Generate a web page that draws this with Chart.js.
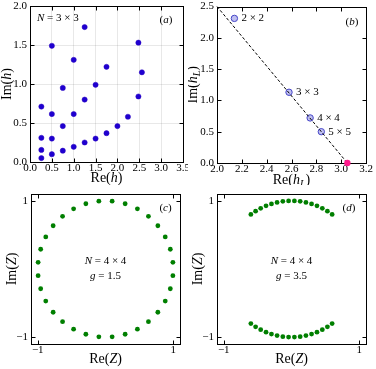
<!DOCTYPE html>
<html><head><meta charset="utf-8">
<script src="https://cdn.jsdelivr.net/npm/chart.js@4.4.0/dist/chart.umd.min.js"></script>
<style>
html,body{margin:0;padding:0;background:#fff;}
#wrap{position:relative;width:376px;height:369px;overflow:hidden;}
canvas{position:absolute;}
</style></head><body>
<div id="wrap">
<canvas id="ca" width="188" height="185" style="left:0;top:0"></canvas>
<canvas id="cb" width="188" height="185" style="left:188px;top:0"></canvas>
<canvas id="cc" width="188" height="184" style="left:0;top:185px"></canvas>
<canvas id="cd" width="188" height="184" style="left:188px;top:185px"></canvas>
</div>
<script>
// ---- Panel (a): zeros h for N = 3x3 ----
const aRe = [0.26,0.26,0.26,0.26, 0.5,0.5,0.5,0.5, 0.75,0.75,0.75, 1.0,1.0,1.0, 1.25,1.25,1.25, 1.5,1.5, 1.75,1.75, 2.0, 2.24, 2.48,2.48, 2.56];
const aIm = [0.05,0.155,0.31,0.71, 0.10,0.30,0.615,1.49, 0.145,0.46,0.95, 0.195,0.615,1.31, 0.25,0.80,1.73, 0.30,0.99, 0.37,1.22, 0.46, 0.58, 0.84,1.53, 1.15];
const aXTicks = [0,0.5,1.0,1.5,2.0,2.5,3.0,3.5];
const aYTicks = [0,0.5,1.0,1.5,2.0];

// ---- Panel (b): leading zeros h_L vs size ----
const bRe = [2.14, 2.58, 2.75, 2.84];
const bIm = [2.31, 1.13, 0.72, 0.50];
const bLabels = ['2 × 2', '3 × 3', '4 × 4', '5 × 5'];
const bLimRe = [3.05];
const bLimIm = [0.0];
const bFitRe = [2.0, 3.05];
const bFitIm = [2.5, 0.0];
const bXTicks = [2.0,2.2,2.4,2.6,2.8,3.0,3.2];
const bYTicks = [0,0.5,1.0,1.5,2.0,2.5];

// ---- Panel (c): Z zeros, N = 4x4, g = 1.5 ----
const cRe = [0.995,0.957,0.882,0.773,0.634,0.471,0.290,0.098,-0.098,-0.290,-0.471,-0.634,-0.773,-0.882,-0.957,-0.995,
             -0.995,-0.957,-0.882,-0.773,-0.634,-0.471,-0.290,-0.098,0.098,0.290,0.471,0.634,0.773,0.882,0.957,0.995];
const cIm = [0.098,0.290,0.471,0.634,0.773,0.882,0.957,0.995,0.995,0.957,0.882,0.773,0.634,0.471,0.290,0.098,
             -0.098,-0.290,-0.471,-0.634,-0.773,-0.882,-0.957,-0.995,-0.995,-0.957,-0.882,-0.773,-0.634,-0.471,-0.290,-0.098];

// ---- Panel (d): Z zeros, N = 4x4, g = 3.5 ----
const dRe = [-0.600,-0.530,-0.455,-0.376,-0.296,-0.213,-0.128,-0.043,0.043,0.128,0.213,0.296,0.376,0.455,0.530,0.600,
             -0.600,-0.530,-0.455,-0.376,-0.296,-0.213,-0.128,-0.043,0.043,0.128,0.213,0.296,0.376,0.455,0.530,0.600];
const dIm = [0.800,0.848,0.890,0.927,0.955,0.977,0.992,0.999,0.999,0.992,0.977,0.955,0.927,0.890,0.848,0.800,
             -0.800,-0.848,-0.890,-0.927,-0.955,-0.977,-0.992,-0.999,-0.999,-0.992,-0.977,-0.955,-0.927,-0.890,-0.848,-0.800];
const zTicks = [-1, 1];

const FONT = '"Liberation Serif", "DejaVu Serif", serif';

function pts(xs, ys){ return xs.map((x,i)=>({x:x, y:ys[i]})); }

function drawRich(ctx, segs, x, y, size, align, rot){
  ctx.save();
  ctx.translate(x, y);
  if (rot) ctx.rotate(-Math.PI/2);
  const fontOf = st => (st==='r' ? '' : 'italic ') + (st==='s' ? Math.round(size*0.72) : size) + 'px ' + FONT;
  let w = 0;
  const ws = segs.map(([t,st]) => { ctx.font = fontOf(st); const m = ctx.measureText(t).width; w += m; return m; });
  let cx = align==='left' ? 0 : (align==='right' ? -w : -w/2);
  ctx.textBaseline = 'middle';
  ctx.fillStyle = '#000';
  segs.forEach(([t,st],i) => { ctx.font = fontOf(st); ctx.fillText(t, cx, st==='s' ? size*0.28 : 0); cx += ws[i]; });
  ctx.restore();
}

const framePlugin = {
  id: 'frame',
  beforeDatasetsDraw(chart){
    const {ctx, chartArea:a} = chart;
    ctx.save();
    ctx.strokeStyle = '#000'; ctx.lineWidth = 1;
    const L = Math.round(a.left)+0.5, T = Math.round(a.top)+0.5, R = Math.round(a.right)+0.5, B = Math.round(a.bottom)+0.5;
    ctx.strokeRect(L, T, R-L, B-T);
    const tl = 4;
    ctx.beginPath();
    const sx = chart.scales.x, sy = chart.scales.y;
    sx.ticks.forEach(t => { const p = Math.round(sx.getPixelForValue(t.value))+0.5; ctx.moveTo(p,B); ctx.lineTo(p,B-tl); ctx.moveTo(p,T); ctx.lineTo(p,T+tl); });
    sy.ticks.forEach(t => { const p = Math.round(sy.getPixelForValue(t.value))+0.5; ctx.moveTo(L,p); ctx.lineTo(L+tl,p); ctx.moveTo(R,p); ctx.lineTo(R-tl,p); });
    ctx.stroke();
    ctx.restore();
  }
};

function textPlugin(fn){
  return { id: 'txt', afterDraw(chart){ fn(chart, chart.ctx, chart.chartArea); } };
}

function makeScales(xr, yr, xt, yt, fmt, yW, xH, grid){
  const g = grid ? {display:true, drawTicks:false, color:'rgba(0,0,0,0.09)', lineWidth:1} : {display:false, drawTicks:false};
  return {
    x: { type:'linear', min:xr[0], max:xr[1], border:{display:false}, grid:g,
         afterBuildTicks: s => { s.ticks = xt.map(v=>({value:v})); },
         ticks:{ callback: v => fmt(v), font:{family:FONT, size:11}, color:'#000', padding:0, maxRotation:0, autoSkip:false },
         afterFit: s => { s.height = xH; s.paddingLeft = 0; s.paddingRight = 0; } },
    y: { type:'linear', min:yr[0], max:yr[1], border:{display:false}, grid:g,
         afterBuildTicks: s => { s.ticks = yt.map(v=>({value:v})); },
         ticks:{ callback: v => fmt(v), font:{family:FONT, size:11}, color:'#000', padding:3, autoSkip:false },
         afterFit: s => { s.width = yW; s.paddingTop = 0; s.paddingBottom = 0; } }
  };
}

const base = { responsive:false, animation:false, events:[], devicePixelRatio:1,
  plugins:{ legend:{display:false}, tooltip:{enabled:false} } };

const f1 = v => v.toFixed(1);
const fz = v => (v < 0 ? '−' + Math.abs(v) : String(v));

// Panel (a)
new Chart(document.getElementById('ca'), {
  type:'scatter',
  data:{ datasets:[{ data:pts(aRe,aIm), backgroundColor:'#1e00d0', borderColor:'#2a00c0', borderWidth:0.5, pointRadius:2.6 }] },
  options: Object.assign({}, base, {
    layout:{ padding:{left:0, top:6, right:5, bottom:0} },
    scales: makeScales([0,3.5],[0,2],aXTicks,aYTicks,f1,30,23,true)
  }),
  plugins:[framePlugin, textPlugin((c,ctx,a)=>{
    drawRich(ctx, [['N','i'],[' = 3 × 3','r']], a.left+7, a.top+12.5, 11, 'left');
    drawRich(ctx, [['(','r'],['a','i'],[')','r']], a.right-17, a.top+14, 11, 'center');
    drawRich(ctx, [['Re(','r'],['h','i'],[')','r']], (a.left+a.right)/2, a.bottom+16, 14, 'center');
    drawRich(ctx, [['Im(','r'],['h','i'],[')','r']], 7, (a.top+a.bottom)/2, 14, 'center', true);
  })]
});

// Panel (b)
new Chart(document.getElementById('cb'), {
  type:'scatter',
  data:{ datasets:[
    { data:pts(bLimRe,bLimIm), backgroundColor:'#ff1a8c', borderColor:'#ff1a8c', borderWidth:0, pointRadius:3.2, clip:false },
    { data:pts(bFitRe,bFitIm), showLine:true, borderColor:'#000', borderWidth:1, borderDash:[3,2], pointRadius:0, fill:false, clip:false },
    { data:pts(bRe,bIm), backgroundColor:'rgba(170,170,235,0.75)', borderColor:'#4646c8', borderWidth:1, pointRadius:3.2, clip:false }
  ] },
  options: Object.assign({}, base, {
    layout:{ padding:{left:0, top:6.5, right:10, bottom:0} },
    scales: makeScales([2.0,3.2],[0,2.5],bXTicks,bYTicks,f1,29,22,false)
  }),
  plugins:[framePlugin, textPlugin((c,ctx,a)=>{
    const sx = c.scales.x, sy = c.scales.y;
    bLabels.forEach((lab,i) => {
      drawRich(ctx, [[lab,'r']], sx.getPixelForValue(bRe[i])+7, sy.getPixelForValue(bIm[i]), 11, 'left');
    });
    drawRich(ctx, [['(','r'],['b','i'],[')','r']], a.right-14, a.top+15.5, 11, 'center');
    drawRich(ctx, [['Re(','r'],['h','i'],['L','s'],[')','r']], (a.left+a.right)/2, a.bottom+17, 14, 'center');
    drawRich(ctx, [['Im(','r'],['h','i'],['L','s'],[')','r']], 5, (a.top+a.bottom)/2, 14, 'center', true);
  })]
});

function zPanel(id, re, im, gText, lab, yW, padR, yTitleX){
  new Chart(document.getElementById(id), {
    type:'scatter',
    data:{ datasets:[{ data:pts(re,im), backgroundColor:'#007f00', borderColor:'#007f00', borderWidth:0, pointRadius:2.4 }] },
    options: Object.assign({}, base, {
      layout:{ padding:{left:0, top:9, right:padR, bottom:0} },
      scales: makeScales([-1.1,1.1],[-1.1,1.1],zTicks,zTicks,fz,yW,25,false)
    }),
    plugins:[framePlugin, textPlugin((c,ctx,a)=>{
      const cx = (a.left+a.right)/2, cy = (a.top+a.bottom)/2;
      drawRich(ctx, [['N','i'],[' = 4 × 4','r']], cx, cy-8, 11, 'center');
      drawRich(ctx, [['g','i'],[' = '+gText,'r']], cx, cy+7, 11, 'center');
      drawRich(ctx, [['(','r'],[lab[0],'i'],[')','r']], a.right-lab[1], a.top+14.5, 11, 'center');
      drawRich(ctx, [['Re(','r'],['Z','i'],[')','r']], cx, a.bottom+15, 14, 'center');
      drawRich(ctx, [['Im(','r'],['Z','i'],[')','r']], yTitleX, cy, 14, 'center', true);
    })]
  });
}
zPanel('cc', cRe, cIm, '1.5', ['c',14.5], 31, 8, 12.3);
zPanel('cd', dRe, dIm, '3.5', ['d',17], 29, 10, 10.3);
</script>
</body></html>
